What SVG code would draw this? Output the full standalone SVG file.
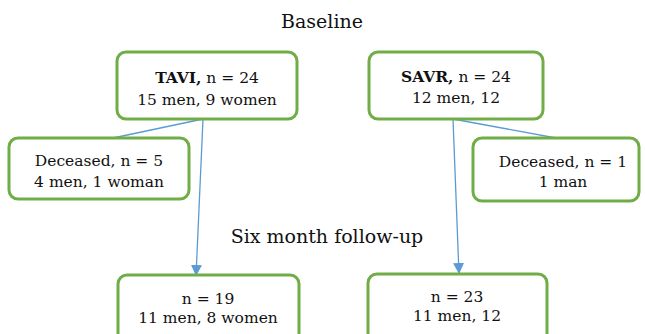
<svg xmlns="http://www.w3.org/2000/svg" width="645" height="334" viewBox="0 0 645 334">
<defs>
<style>
.box{fill:#fff;stroke:#70ad47;stroke-width:3}
.t{font-family:"DejaVu Serif","Liberation Serif",serif;font-size:15.5px;fill:#111;text-anchor:middle}
.h{font-family:"DejaVu Serif","Liberation Serif",serif;font-size:19px;fill:#111;text-anchor:middle}
.c{stroke:#5b9bd5;stroke-width:1.3;fill:none}
</style>
<marker id="ah" viewBox="0 0 10 10" refX="10" refY="5" markerWidth="11" markerHeight="11" markerUnits="userSpaceOnUse" orient="auto"><path d="M0,0 L10,5 L0,10 z" fill="#5b9bd5"/></marker>
</defs>
<rect width="645" height="334" fill="#fff"/>
<text class="h" x="322" y="28">Baseline</text>
<text class="h" x="327" y="243">Six month follow-up</text>
<g id="connectors">
<line class="c" x1="203" y1="119" x2="113" y2="138"/>
<line class="c" x1="203" y1="119" x2="196" y2="276" marker-end="url(#ah)"/>
<line class="c" x1="453" y1="119" x2="556" y2="138"/>
<line class="c" x1="453" y1="119" x2="459" y2="274" marker-end="url(#ah)"/>
</g>
<g id="tavi">
<rect class="box" x="117" y="52" width="180" height="67" rx="9"/>
<text class="t" x="207" y="83"><tspan font-weight="bold">TAVI,</tspan> n = 24</text>
<text class="t" x="207" y="105">15 men, 9 women</text>
</g>
<g id="savr">
<rect class="box" x="369" y="52" width="174" height="67" rx="9"/>
<text class="t" x="456" y="82"><tspan font-weight="bold">SAVR,</tspan> n = 24</text>
<text class="t" x="456" y="103">12 men, 12</text>
</g>
<g id="tavi-deceased">
<rect class="box" x="9" y="138" width="180" height="61" rx="9"/>
<text class="t" x="99" y="166">Deceased, n = 5</text>
<text class="t" x="99" y="187">4 men, 1 woman</text>
</g>
<g id="savr-deceased">
<rect class="box" x="473" y="138" width="166" height="63" rx="9"/>
<text class="t" x="563" y="167">Deceased, n = 1</text>
<text class="t" x="563" y="187">1 man</text>
</g>
<g id="tavi-followup">
<rect class="box" x="118" y="275" width="181" height="70" rx="9"/>
<text class="t" x="208" y="304">n = 19</text>
<text class="t" x="208" y="323">11 men, 8 women</text>
</g>
<g id="savr-followup">
<rect class="box" x="368" y="274" width="179" height="70" rx="9"/>
<text class="t" x="457" y="302">n = 23</text>
<text class="t" x="457" y="321">11 men, 12</text>
</g>
</svg>
